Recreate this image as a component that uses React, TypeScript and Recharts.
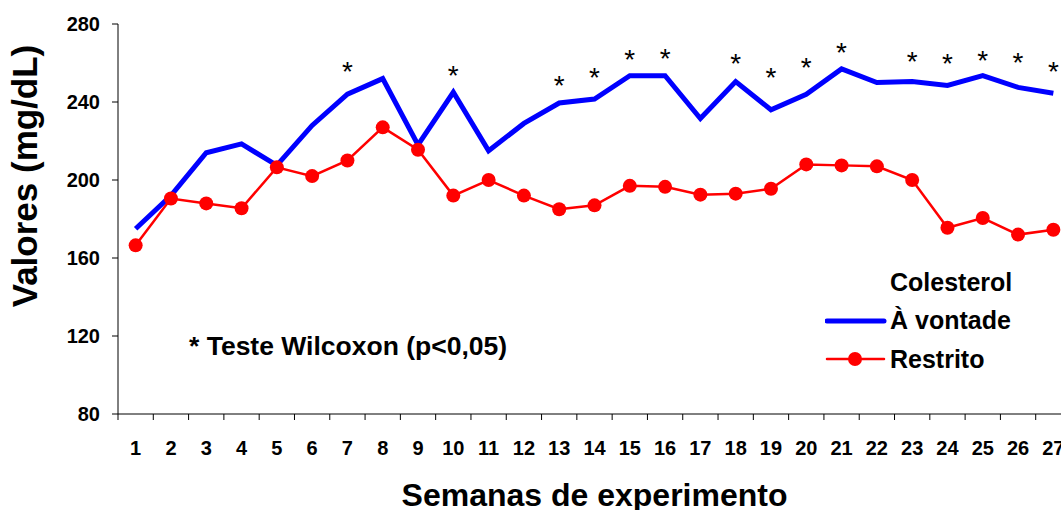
import { LineChart, Line, XAxis, YAxis, Legend } from 'recharts'

const semanas = [1, 2, 3, 4, 5, 6, 7, 8, 9, 10, 11, 12, 13, 14, 15, 16, 17, 18, 19, 20, 21, 22, 23, 24, 25, 26, 27]
const aVontade = [175, 192, 214, 218.5, 207.5, 228, 244, 252, 218, 245, 215, 229, 239.5, 241.5, 253.5, 253.5, 231.5, 250.5, 236, 244, 257, 250, 250.5, 248.5, 253.5, 247.5, 244.5]
const restrito = [166.5, 190.5, 188, 185.5, 206.5, 202, 210, 227, 215.5, 192, 200, 192, 185, 187, 197, 196.5, 192.5, 193, 195.5, 208, 207.5, 207, 200, 175.5, 180.5, 172, 174.5]

// semanas com diferença significativa e altura do asterisco (mg/dL)
const semanasSig = [7, 10, 13, 14, 15, 16, 18, 19, 20, 21, 23, 24, 25, 26, 27]
const alturaSig = [259, 256.8, 251.8, 256, 265.3, 265.5, 263.2, 256, 261, 268.7, 264.1, 262.9, 264.6, 263.7, 259]

const yTicks = [80, 120, 160, 200, 240, 280]

const data = semanas.map((s, i) => {
  const k = semanasSig.indexOf(s)
  return {
    semana: s,
    aVontade: aVontade[i],
    restrito: restrito[i],
    sig: k >= 0 ? alturaSig[k] : null,
  }
})

const W = 1080
const H = 510
const LEFT = 118
const RIGHT = 9
const BAND = (W - LEFT - RIGHT) / semanas.length
const FONT = '"Liberation Sans", Arial, sans-serif'

// eslint-disable-next-line @typescript-eslint/no-explicit-any
function WeekTick({ x, y, payload }: any) {
  const bx = x - BAND / 2
  return (
    <g>
      <line x1={bx} x2={bx} y1={414} y2={420} stroke="#000" />
      <text x={x} y={y} dy="0.71em" textAnchor="middle" fontSize={20} fontWeight="bold" fill="#000" fontFamily={FONT}>
        {payload.value}
      </text>
    </g>
  )
}

// eslint-disable-next-line @typescript-eslint/no-explicit-any
function Asterisco({ cx, cy, value }: any) {
  if (value == null || cy == null) return null
  return (
    <text x={cx} y={cy + 16} textAnchor="middle" fontSize={28} fill="#000" fontFamily={FONT}>
      *
    </text>
  )
}

function LegendIcon({ dot, color, width }: { dot: boolean; color: string; width: number }) {
  return (
    <svg width={62} height={16} style={{ display: 'block' }}>
      <line x1={2} x2={59} y1={8} y2={8} stroke={color} strokeWidth={width} strokeLinecap="round" />
      {dot && <circle cx={30} cy={8} r={7} fill={color} />}
    </svg>
  )
}

function LegendaColesterol() {
  const row = { display: 'flex', alignItems: 'center', height: 38.5, gap: 3 }
  return (
    <div style={{ fontFamily: FONT, fontWeight: 'bold', fontSize: 25, color: '#000', lineHeight: 1 }}>
      <div style={row}>
        <div style={{ width: 62 }} />
        Colesterol
      </div>
      <div style={row}>
        <LegendIcon dot={false} color="#0000ff" width={5} />À vontade
      </div>
      <div style={row}>
        <LegendIcon dot color="#ff0000" width={2.5} />Restrito
      </div>
    </div>
  )
}

export default function App() {
  return (
    <div style={{ position: 'relative', width: 1061, height: H, overflow: 'hidden', background: '#fff' }}>
      <style>{'body { margin: 0; }'}</style>
      <LineChart width={W} height={H} data={data} margin={{ top: 24, right: RIGHT, bottom: 0, left: 0 }}>
        <XAxis
          dataKey="semana"
          type="number"
          domain={[0.5, 27.5]}
          ticks={semanas}
          interval={0}
          height={96}
          tickLine={false}
          tickMargin={21}
          axisLine={{ stroke: '#000' }}
          tick={<WeekTick />}
          label={{
            value: 'Semanas de experimento',
            position: 'insideBottom',
            offset: 4,
            fontSize: 32,
            fontWeight: 'bold',
            fill: '#000',
            fontFamily: FONT,
          }}
        />
        <YAxis
          domain={[80, 280]}
          ticks={yTicks}
          width={LEFT}
          tickSize={6}
          tickMargin={12}
          axisLine={{ stroke: '#000' }}
          tickLine={{ stroke: '#000' }}
          tick={{ fontSize: 20, fontWeight: 'bold', fill: '#000', fontFamily: FONT }}
          label={{
            content: () => (
              <text
                transform="translate(37,176) rotate(-90)"
                textAnchor="middle"
                fontSize={35}
                fontWeight="bold"
                fill="#000"
                fontFamily={FONT}
              >
                Valores (mg/dL)
              </text>
            ),
          }}
        />
        <Legend
          layout="horizontal"
          verticalAlign="middle"
          align="center"
          content={<LegendaColesterol />}
          wrapperStyle={{ position: 'absolute', left: 825, top: 263, width: 250, height: 116 }}
        />
        <Line
          dataKey="aVontade"
          stroke="#0000ff"
          strokeWidth={5}
          dot={false}
          activeDot={false}
          isAnimationActive={false}
          legendType="none"
        />
        <Line
          dataKey="restrito"
          stroke="#ff0000"
          strokeWidth={2.5}
          dot={{ r: 7, fill: '#ff0000', stroke: 'none' }}
          activeDot={false}
          isAnimationActive={false}
          legendType="none"
        />
        <Line
          dataKey="sig"
          stroke="none"
          dot={<Asterisco />}
          activeDot={false}
          isAnimationActive={false}
          legendType="none"
        />
      </LineChart>
      <svg width={1061} height={H} style={{ position: 'absolute', left: 0, top: 0, pointerEvents: 'none' }}>
        <text x={189} y={355} fontSize={26.5} fontWeight="bold" fill="#000" fontFamily={FONT}>
          * Teste Wilcoxon (p&lt;0,05)
        </text>
      </svg>
    </div>
  )
}
